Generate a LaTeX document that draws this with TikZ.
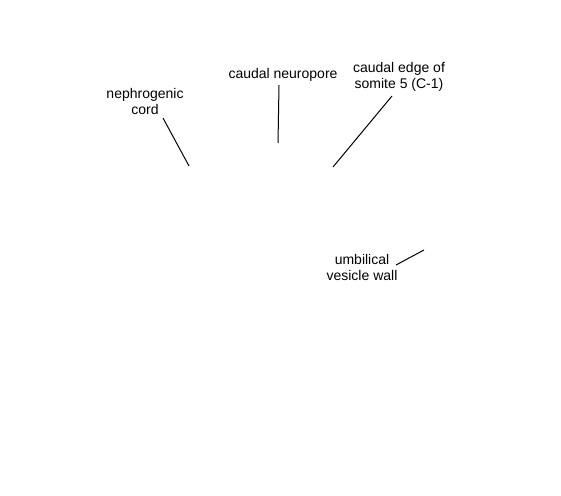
\documentclass[tikz,border=0pt]{standalone}
\usepackage{fontspec}
\setmainfont{Liberation Sans}
\begin{document}
\begin{tikzpicture}[x=1pt,y=-1pt,
  lbl/.style={align=center,inner sep=0pt,font=\fontsize{14}{16}\selectfont},
  ldr/.style={line width=1pt,black}]
\useasboundingbox[fill=white] (0,0) rectangle (561,495);
\node[lbl] (neph) at (145,101) {nephrogenic\\cord};
\node[lbl] (neuro) at (283,75) {caudal neuropore};
\node[lbl] (somite) at (399,77) {caudal edge of\\somite 5 (C-1)};
\node[lbl] (umb) at (362,267) {umbilical\\vesicle wall};
\coordinate (nephE) at (189,166);
\coordinate (nephS) at (163,118);
\coordinate (neuroS) at (279,85);
\coordinate (neuroE) at (278,143);
\coordinate (somS) at (392,96);
\coordinate (somE) at (333,167);
\coordinate (umbS) at (396,265);
\coordinate (umbE) at (424,250);
\draw[ldr] (nephS) -- (nephE);
\draw[ldr] (neuroS) -- (neuroE);
\draw[ldr] (somS) -- (somE);
\draw[ldr] (umbS) -- (umbE);
\end{tikzpicture}
\end{document}
